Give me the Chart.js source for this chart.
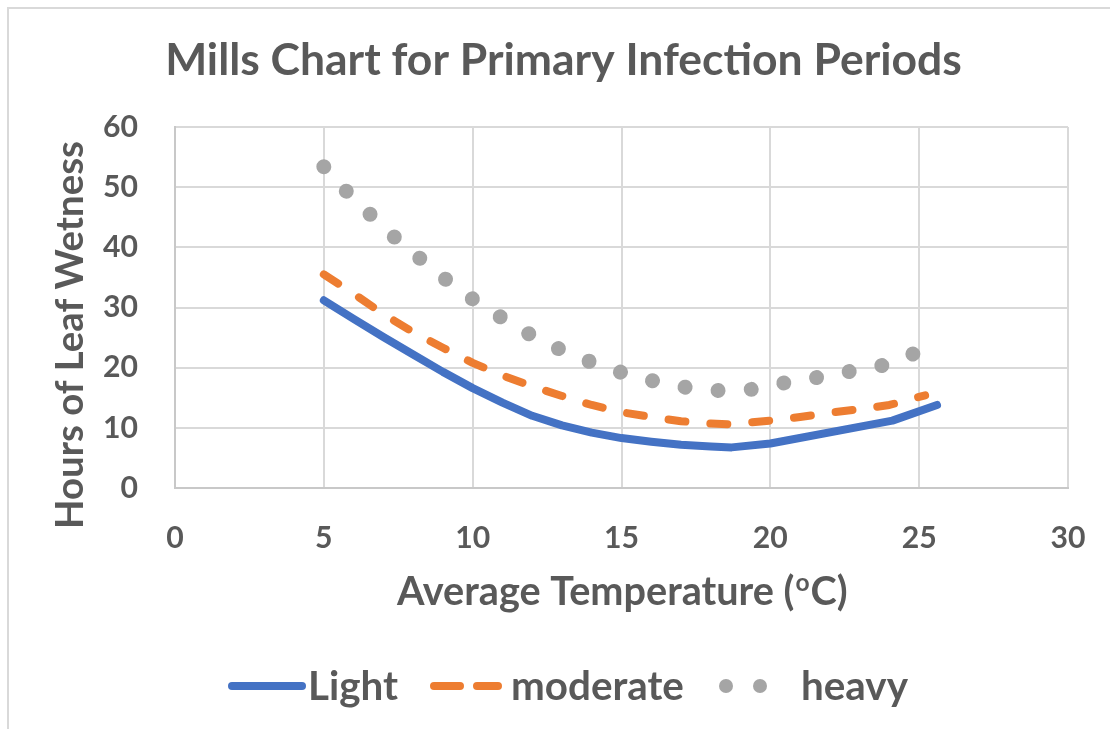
<!DOCTYPE html>
<html><head><meta charset="utf-8">
<script src="https://cdn.jsdelivr.net/npm/chart.js@4.4.1/dist/chart.umd.min.js"></script>
<style>html,body{margin:0;padding:0;background:#fff;}#wrap{width:1110px;height:729px;position:relative;}</style>
</head><body><div id="wrap"><canvas id="c" width="1110" height="729"></canvas></div>
<script>
// ---- data ----
const titleText = 'Mills Chart for Primary Infection Periods';
const xTitleParts = ['Average Temperature (', 'o', 'C)'];
const yTitleText = 'Hours of Leaf Wetness';
const seriesNames = ['Light', 'moderate', 'heavy'];
const xTicks = [0, 5, 10, 15, 20, 25, 30];
const yTicks = [0, 10, 20, 30, 40, 50, 60];

const lightTemp  = [5, 6, 7, 8, 9, 10, 11, 12, 13, 14, 15, 16, 17, 18, 18.7, 20, 24.1, 25.6];
const lightHours = [31.2, 28.1, 25.1, 22.2, 19.3, 16.6, 14.2, 12.0, 10.4, 9.2, 8.3, 7.7, 7.2, 6.9, 6.75, 7.4, 11.2, 13.8];

const moderateTemp  = [5, 6, 7, 8, 9, 10, 11, 12, 13, 14, 15, 16, 17, 18, 18.6, 20, 21, 22, 23, 24, 25.2];
const moderateHours = [35.5, 32.3, 28.9, 25.9, 23.3, 20.8, 18.7, 16.9, 15.3, 13.8, 12.6, 11.8, 11.1, 10.7, 10.6, 11.2, 11.8, 12.5, 13.1, 13.8, 15.4];

const heavyTemp  = [5.0, 5.74, 6.55, 7.37, 8.22, 9.09, 10.0, 10.94, 11.9, 12.91, 13.94, 15.0, 16.07, 17.19, 18.28, 19.4, 20.5, 21.61, 22.71, 23.81, 24.86];
const heavyHours = [53.4, 49.4, 45.5, 41.7, 38.2, 34.7, 31.4, 28.4, 25.6, 23.1, 21.0, 19.2, 17.8, 16.7, 16.2, 16.4, 17.5, 18.4, 19.4, 20.4, 22.4];

// ---- styles ----
const FONT = 'Lato';
const TEXT = '#595959';
const COLORS = ['#4472C4', '#ED7D31', '#A5A5A5'];
const SUP = 0.62;

const mctx = document.createElement('canvas').getContext('2d');
function w100(text) { mctx.font = 'bold 100px ' + FONT; return mctx.measureText(text).width; }
function fit(text, w) { return 100 * w / w100(text); }
const titleSize = fit(titleText, 797);
const axisSize = fit(yTitleText, 388);
const xAxisSize = 100 * 450 / (w100(xTitleParts[0]) + w100(xTitleParts[1]) * SUP + w100(xTitleParts[2]) + 3);
const tickSize = fit('60', 35);
const legendSize = fit('moderate', 173);

function pts(xs, ys) { return xs.map((x, i) => ({ x: x, y: ys[i] })); }

const decor = {
  id: 'decor',
  beforeDraw(chart) {
    const c = chart.ctx;
    c.save();
    c.fillStyle = '#fff';
    c.fillRect(0, 0, chart.width, chart.height);
    c.strokeStyle = '#d9d9d9';
    c.lineWidth = 2;
    c.beginPath();
    c.moveTo(8, chart.height); c.lineTo(8, 8); c.lineTo(chart.width, 8);
    c.stroke();
    c.restore();
  },
  afterDraw(chart) {
    const c = chart.ctx;
    c.save();
    c.fillStyle = TEXT;
    c.textBaseline = 'alphabetic';
    // title
    c.font = 'bold ' + titleSize + 'px ' + FONT;
    c.textAlign = 'center';
    c.fillText(titleText, 563.5, 75);
    // y title
    c.font = 'bold ' + axisSize + 'px ' + FONT;
    c.save();
    c.translate(83, 335);
    c.rotate(-Math.PI / 2);
    c.fillText(yTitleText, 0, 0);
    c.restore();
    // x title with superscript
    c.textAlign = 'left';
    let x = 397;
    c.font = 'bold ' + xAxisSize + 'px ' + FONT;
    c.fillText(xTitleParts[0], x, 605);
    x += c.measureText(xTitleParts[0]).width;
    c.font = 'bold ' + (xAxisSize * SUP) + 'px ' + FONT;
    c.fillText(xTitleParts[1], x + 1, 605 - xAxisSize * 0.36);
    x += c.measureText(xTitleParts[1]).width + 2;
    c.font = 'bold ' + xAxisSize + 'px ' + FONT;
    c.fillText(xTitleParts[2], x, 605);
    // legend
    const ly = 686;
    c.lineCap = 'round';
    c.strokeStyle = COLORS[0]; c.lineWidth = 8;
    c.beginPath(); c.moveTo(232, ly); c.lineTo(302, ly); c.stroke();
    c.strokeStyle = COLORS[1];
    c.beginPath(); c.moveTo(434, ly); c.lineTo(460, ly); c.moveTo(477, ly); c.lineTo(498, ly); c.stroke();
    c.fillStyle = COLORS[2];
    [726, 760].forEach(cx => { c.beginPath(); c.arc(cx, ly, 7, 0, Math.PI * 2); c.fill(); });
    c.fillStyle = TEXT;
    c.font = 'bold ' + legendSize + 'px ' + FONT;
    c.fillText(seriesNames[0], 308, 700);
    c.fillText(seriesNames[1], 511, 700);
    c.fillText(seriesNames[2], 801, 700);
    c.restore();
  }
};

new Chart(document.getElementById('c'), {
  type: 'line',
  data: {
    datasets: [
      { label: seriesNames[0], data: pts(lightTemp, lightHours), borderColor: COLORS[0], borderWidth: 8,
        borderCapStyle: 'round', borderJoinStyle: 'round', pointRadius: 0, tension: 0, fill: false },
      { label: seriesNames[1], data: pts(moderateTemp, moderateHours), borderColor: COLORS[1], borderWidth: 8,
        borderDash: [17, 25], borderCapStyle: 'round', borderJoinStyle: 'round', pointRadius: 0, tension: 0, fill: false },
      { label: seriesNames[2], data: pts(heavyTemp, heavyHours), borderColor: COLORS[2], borderWidth: 15,
        borderDash: [0.01, 33.18], borderCapStyle: 'round', borderJoinStyle: 'round', pointRadius: 0, tension: 0, fill: false }
    ]
  },
  options: {
    responsive: false,
    animation: false,
    devicePixelRatio: 1,
    layout: { padding: { top: 127, left: 0, right: 42, bottom: 0 } },
    plugins: { legend: { display: false }, title: { display: false }, tooltip: { enabled: false } },
    scales: {
      x: {
        type: 'linear', min: xTicks[0], max: xTicks[xTicks.length - 1],
        afterFit(s) { s.height = 241; },
        afterBuildTicks(s) { s.ticks = xTicks.map(v => ({ value: v })); },
        grid: { color: '#d9d9d9', lineWidth: 2, drawTicks: true, tickLength: 32, tickColor: 'rgba(0,0,0,0)' },
        border: { color: '#c8c8c8', width: 2 },
        ticks: { padding: 0, color: TEXT, font: { family: FONT, size: tickSize, weight: 'bold' } }
      },
      y: {
        type: 'linear', min: yTicks[0], max: yTicks[yTicks.length - 1],
        afterFit(s) { s.width = 175; },
        afterBuildTicks(s) { s.ticks = yTicks.map(v => ({ value: v })); },
        grid: { color: '#d9d9d9', lineWidth: 2, drawTicks: false },
        border: { color: '#c8c8c8', width: 2 },
        ticks: { padding: 37, color: TEXT, font: { family: FONT, size: tickSize, weight: 'bold' } }
      }
    }
  },
  plugins: [decor]
});
</script>
</body></html>
